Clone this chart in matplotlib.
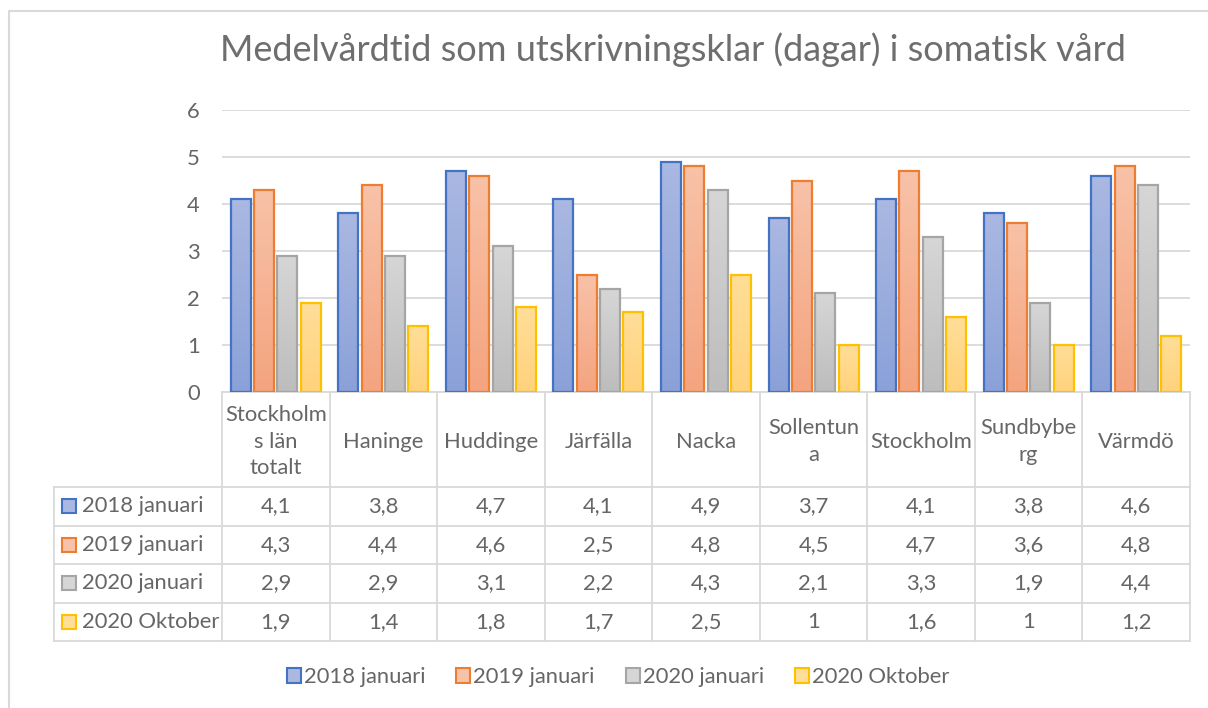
import numpy as np
import matplotlib.pyplot as plt
import matplotlib.transforms as mtransforms
from matplotlib.colors import LinearSegmentedColormap
from matplotlib.patches import Patch, Rectangle

plt.rcParams['font.family'] = ['Lato', 'DejaVu Sans']

header_labels = ["Stockholm\ns län\ntotalt", "Haninge", "Huddinge", "Järfälla", "Nacka",
                 "Sollentun\na", "Stockholm", "Sundbybe\nrg", "Värmdö"]
series_names = ["2018 januari", "2019 januari", "2020 januari", "2020 Oktober"]
jan_2018 = [4.1, 3.8, 4.7, 4.1, 4.9, 3.7, 4.1, 3.8, 4.6]
jan_2019 = [4.3, 4.4, 4.6, 2.5, 4.8, 4.5, 4.7, 3.6, 4.8]
jan_2020 = [2.9, 2.9, 3.1, 2.2, 4.3, 2.1, 3.3, 1.9, 4.4]
okt_2020 = [1.9, 1.4, 1.8, 1.7, 2.5, 1, 1.6, 1, 1.2]
series = [jan_2018, jan_2019, jan_2020, okt_2020]

# (edge, top of gradient, bottom of gradient)
styles = [("#4472C4", "#AAB8E2", "#8AA1D8"),
          ("#ED7D31", "#F8C2A8", "#F4A47F"),
          ("#A5A5A5", "#D6D6D6", "#BDBDBD"),
          ("#FFC000", "#FFDE98", "#FFD27C")]
TXT = "#666666"
GRID = "#D9D9D9"
FS = 15.8

W, H = 1208, 708
fig = plt.figure(figsize=(W / 100, H / 100), dpi=100)

# full-figure overlay in pixel coordinates, used for frame and table
ov = fig.add_axes([0, 0, 1, 1])
ov.set_xlim(0, W)
ov.set_ylim(H, 0)
ov.axis("off")
ov.plot([9, 9, W], [H, 11, 11], color=GRID, lw=1.5)

ax = fig.add_axes([222 / W, 316 / H, 968 / W, 282 / H])
n = len(header_labels)
x = np.arange(n)
slot, bw = 0.217, 0.186

for k, (vals, (ec, top, bot)) in enumerate(zip(series, styles)):
    cmap = LinearSegmentedColormap.from_list(f"g{k}", [bot, top])
    grad = np.linspace(0, 1, 64).reshape(-1, 1)
    bars = ax.bar(x + (k - 1.5) * slot, vals, bw, facecolor="none",
                  edgecolor=ec, linewidth=1.6, zorder=3)
    for b in bars:
        x0, y0 = b.get_x(), b.get_y()
        im = ax.imshow(grad, cmap=cmap, origin="lower", aspect="auto",
                       extent=[x0, x0 + b.get_width(), y0, y0 + b.get_height()],
                       zorder=2)
        im.set_clip_path(b)

ax.set_xlim(-0.5, n - 0.5)
ax.set_ylim(0, 6)
ax.set_yticks(range(7))
ax.set_xticks([])
ax.tick_params(axis="y", length=0, pad=16, labelsize=FS, labelcolor=TXT)
ax.grid(axis="y", color=GRID, lw=1.3, zorder=0)
for s in ["top", "right", "left"]:
    ax.spines[s].set_visible(False)
ax.spines["bottom"].set_color(GRID)
ax.spines["bottom"].set_linewidth(1.3)

fig.text(673 / W, 1 - 50 / H, "Medelvårdtid som utskrivningsklar (dagar) i somatisk vård",
         ha="center", va="center", fontsize=26, color="#6e6e6e")

# data table under the plot
tr = mtransforms.blended_transform_factory(ax.transData, ov.transData)
head_top, head_bot = 392, 487
row_h = 38.5
rows_y = [head_bot + i * row_h for i in range(len(series) + 1)]
edges = np.arange(n + 1) - 0.5
for e in edges:
    ov.plot([e, e], [head_top, rows_y[-1]], color=GRID, lw=1.3, transform=tr)
ov.plot([54, 54], [head_bot, rows_y[-1]], color=GRID, lw=1.3)
for yy in rows_y:
    ov.plot([54, 222], [yy, yy], color=GRID, lw=1.3)
    ov.plot([edges[0], edges[-1]], [yy, yy], color=GRID, lw=1.3, transform=tr)

for i, lab in enumerate(header_labels):
    ov.text(x[i], (head_top + head_bot) / 2 + 2, lab, ha="center", va="center",
            fontsize=FS, color=TXT, linespacing=1.4, transform=tr)

for r, (name, vals, (ec, top, bot)) in enumerate(zip(series_names, series, styles)):
    yc = (rows_y[r] + rows_y[r + 1]) / 2
    ov.add_patch(Rectangle((62, yc - 7), 14, 14, facecolor=top, edgecolor=ec, lw=1.5))
    ov.text(82, yc, name, ha="left", va="center", fontsize=FS, color=TXT)
    for i, v in enumerate(vals):
        ov.text(x[i], yc, f"{v:g}".replace(".", ","), ha="center", va="center",
                fontsize=FS, color=TXT, transform=tr)

handles = [Patch(facecolor=top, edgecolor=ec, lw=1.5) for ec, top, bot in styles]
fig.legend(handles, series_names, loc="center", bbox_to_anchor=(618 / W, 1 - 677 / H),
           ncol=4, frameon=False, fontsize=FS, labelcolor=TXT, handlelength=0.64,
           handleheight=0.64, handletextpad=0.15, columnspacing=1.4)

fig.savefig("out.png", dpi=100)
